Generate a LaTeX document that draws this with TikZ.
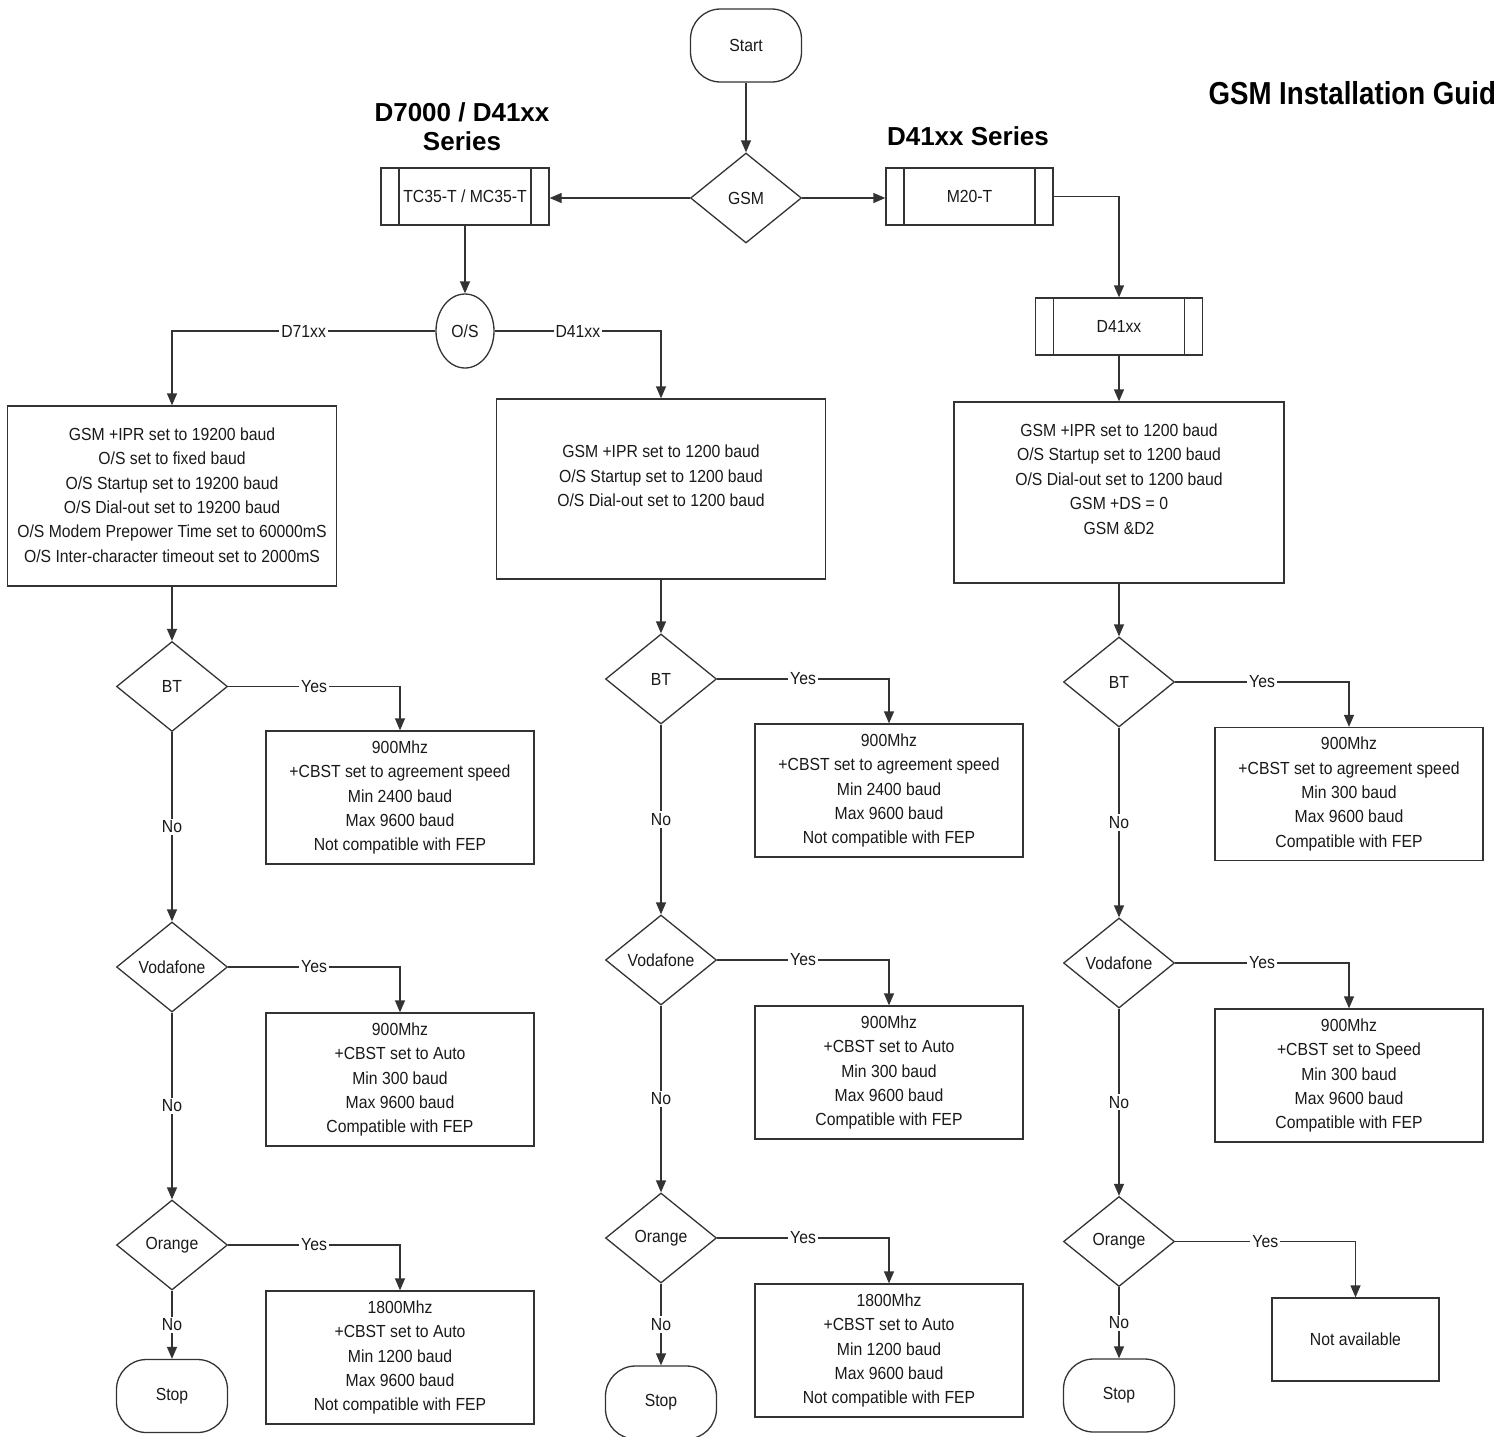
\documentclass[tikz,border=0pt]{standalone}
\usepackage{fontspec}
\setmainfont{Liberation Sans}[FakeStretch=0.9]
\newfontfamily\headfont{Liberation Sans}
\newfontfamily\titlefont{Liberation Sans}[FakeStretch=0.87]
\usetikzlibrary{shapes.geometric,arrows.meta,calc}
\begin{document}
\begin{tikzpicture}[x=1pt,y=-1pt,
  every node/.style={font=\fontsize{17.5}{24.4}\selectfont, text=black!90},
  line/.style={draw=black!80, line width=1.3pt},
  arr/.style={line, -{Triangle[length=12pt,width=10pt]}},
  term/.style={draw=black!80, line width=1.3pt, rounded corners=30pt, minimum width=111pt, minimum height=73pt, inner sep=0pt},
  dec/.style={diamond, draw=black!80, line width=1.3pt, minimum width=111pt, minimum height=90pt, inner sep=0pt},
  proc/.style={rectangle, draw=black!80, line width=1.3pt, minimum width=168pt, minimum height=57pt, inner sep=0pt,
    path picture={
      \draw[black!80, line width=1.3pt] ([xshift=18pt]path picture bounding box.north west) -- ([xshift=18pt]path picture bounding box.south west);
      \draw[black!80, line width=1.3pt] ([xshift=-18pt]path picture bounding box.north east) -- ([xshift=-18pt]path picture bounding box.south east);}},
  box/.style={rectangle, draw=black!80, line width=1.3pt, inner sep=0pt, align=center},
  cfg/.style={box, minimum width=329pt, minimum height=180pt},
  res/.style={box, minimum width=268pt, minimum height=133pt},
  txt/.style={align=center, inner sep=0pt},
  lbl/.style={fill=white, inner sep=2pt},
  ovl/.style={ellipse, draw=black!80, line width=1.3pt, minimum width=58pt, minimum height=74pt, inner sep=0pt}
]
\useasboundingbox (0,0) rectangle (1494,1436);
\clip (0,0) rectangle (1494,1436);

% headings
\node[font=\titlefont\bfseries\fontsize{31.8}{36}\selectfont, anchor=west, text=black] (title) at (1205,93) {GSM Installation Guide};
\node[font=\headfont\bfseries\fontsize{26}{29}\selectfont, align=center, text=black] (h1) at (462,127) {D7000 / D41xx\\Series};
\node[font=\headfont\bfseries\fontsize{26}{29}\selectfont, text=black] (h2) at (968,136) {D41xx Series};

% top part
\node[term] (start) at (746,45.5) {Start};
\node[dec] (gsm) at (746,198) {GSM};
\node[proc] (tc) at (465,196.5) {TC35-T / MC35-T};
\node[proc, minimum width=167pt] (m20) at (969.5,196.5) {M20-T};
\node[proc, minimum width=167pt] (d41) at (1119,326.5) {D41xx};
\node[ovl] (os) at (465,331) {O/S};

% config boxes
\node[cfg] (c1) at (172,496) {};
\node[txt] (c1t) at (172,495) {GSM +IPR set to 19200 baud\\O/S set to fixed baud\\O/S Startup set to 19200 baud\\O/S Dial-out set to 19200 baud\\O/S Modem Prepower Time set to 60000mS\\O/S Inter-character timeout set to 2000mS};
\node[cfg] (c2) at (661,489) {};
\node[txt] (c2t) at (661,476) {GSM +IPR set to 1200 baud\\O/S Startup set to 1200 baud\\O/S Dial-out set to 1200 baud};
\node[cfg, minimum width=330pt, minimum height=181pt] (c3) at (1119,492.5) {};
\node[txt] (c3t) at (1119,479) {GSM +IPR set to 1200 baud\\O/S Startup set to 1200 baud\\O/S Dial-out set to 1200 baud\\GSM +DS = 0\\GSM \&D2};

% left column
\node[dec] (bt1) at (172,686.5) {BT};
\node[dec] (vo1) at (172,967) {Vodafone};
\node[dec] (or1) at (172,1245) {Orange};
\node[term] (stop1) at (172,1396) {Stop};
\node[res] (y11) at (400,797.5) {900Mhz\\+CBST set to agreement speed\\Min 2400 baud\\Max 9600 baud\\Not compatible with FEP};
\node[res] (y12) at (400,1079.5) {900Mhz\\+CBST set to Auto\\Min 300 baud\\Max 9600 baud\\Compatible with FEP};
\node[res] (y13) at (400,1357.5) {1800Mhz\\+CBST set to Auto\\Min 1200 baud\\Max 9600 baud\\Not compatible with FEP};

% middle column
\node[dec] (bt2) at (661,679) {BT};
\node[dec] (vo2) at (661,960) {Vodafone};
\node[dec] (or2) at (661,1238) {Orange};
\node[term] (stop2) at (661,1402.5) {Stop};
\node[res] (y21) at (889,790.5) {900Mhz\\+CBST set to agreement speed\\Min 2400 baud\\Max 9600 baud\\Not compatible with FEP};
\node[res] (y22) at (889,1072.5) {900Mhz\\+CBST set to Auto\\Min 300 baud\\Max 9600 baud\\Compatible with FEP};
\node[res] (y23) at (889,1350.5) {1800Mhz\\+CBST set to Auto\\Min 1200 baud\\Max 9600 baud\\Not compatible with FEP};

% right column
\node[dec] (bt3) at (1119,682) {BT};
\node[dec] (vo3) at (1119,963) {Vodafone};
\node[dec] (or3) at (1119,1241.5) {Orange};
\node[term] (stop3) at (1119,1395.5) {Stop};
\node[res] (y31) at (1349,794) {900Mhz\\+CBST set to agreement speed\\Min 300 baud\\Max 9600 baud\\Compatible with FEP};
\node[res] (y32) at (1349,1075.5) {900Mhz\\+CBST set to Speed\\Min 300 baud\\Max 9600 baud\\Compatible with FEP};
\node[box, minimum width=167pt, minimum height=83pt] (na) at (1355.5,1339.5) {Not available};

% connectors top
\draw[arr] (start) -- (gsm);
\draw[arr] (gsm.west) -- (gsm.west -| tc.east);
\draw[arr] (gsm.east) -- (gsm.east -| m20.west);
\draw[arr] (m20.east) -| (d41.north);
\draw[arr] (tc.south) -- (os.north);
\draw[arr] (os.west) -- node[lbl] {D71xx} (os.west -| c1.north) -- (c1.north);
\draw[arr] (os.east) -- node[lbl] {D41xx} (os.east -| c2.north) -- (c2.north);
\draw[arr] (d41.south) -- (c3.north);

% column flows
\foreach \c in {1,2,3} {
  \draw[arr] (c\c.south) -- (bt\c.north);
  \draw[arr] (bt\c.south) -- node[lbl] {No} (vo\c.north);
  \draw[arr] (vo\c.south) -- node[lbl] {No} (or\c.north);
  \draw[arr] (or\c.south) -- node[lbl] {No} (stop\c.north);
}
\draw[arr] (bt1.east) -- node[lbl] {Yes} (bt1.east -| y11.north) -- (y11.north);
\draw[arr] (vo1.east) -- node[lbl] {Yes} (vo1.east -| y12.north) -- (y12.north);
\draw[arr] (or1.east) -- node[lbl] {Yes} (or1.east -| y13.north) -- (y13.north);
\draw[arr] (bt2.east) -- node[lbl] {Yes} (bt2.east -| y21.north) -- (y21.north);
\draw[arr] (vo2.east) -- node[lbl] {Yes} (vo2.east -| y22.north) -- (y22.north);
\draw[arr] (or2.east) -- node[lbl] {Yes} (or2.east -| y23.north) -- (y23.north);
\draw[arr] (bt3.east) -- node[lbl] {Yes} (bt3.east -| y31.north) -- (y31.north);
\draw[arr] (vo3.east) -- node[lbl] {Yes} (vo3.east -| y32.north) -- (y32.north);
\draw[arr] (or3.east) -- node[lbl] {Yes} (or3.east -| na.north) -- (na.north);
\end{tikzpicture}
\end{document}
